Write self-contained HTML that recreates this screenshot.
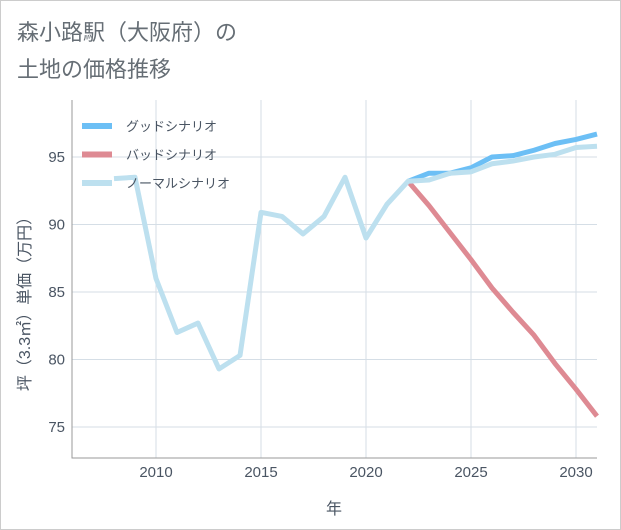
<!DOCTYPE html>
<html><head><meta charset="utf-8"><style>
body{margin:0;background:#fff;}
svg{display:block;font-family:"Liberation Sans","Noto Sans CJK JP",sans-serif;}
</style></head><body>
<svg width="621" height="530">
<rect x="0.5" y="0.5" width="620" height="529" fill="#fff" stroke="#ccc"/>
<text x="17" y="40" font-size="22" fill="#666e75">森小路駅（大阪府）の</text>
<text x="17" y="77" font-size="22" fill="#666e75">土地の価格推移</text>
<g id="grid"></g>
<path d="M72 100 V458 H597" fill="none" stroke="#999" stroke-width="1"/>
<g id="series"></g>
<g id="legend"></g>
<text x="334" y="514" font-size="16" fill="#4a5563" text-anchor="middle">年</text>
<text transform="translate(30,300) rotate(-90)" font-size="16" fill="#4a5563" text-anchor="middle">坪（3.3㎡）単価（万円）</text>
</svg>
<script>
const xTicks=[2010,2015,2020,2025,2030];
const yTicks=[75,80,85,90,95];
const normalYears=[2008,2009,2010,2011,2012,2013,2014,2015,2016,2017,2018,2019,2020,2021,2022,2023,2024,2025,2026,2027,2028,2029,2030,2031];
const normalVals=[93.4,93.5,86,82,82.7,79.3,80.3,90.9,90.6,89.3,90.6,93.5,89,91.5,93.2,93.3,93.8,93.9,94.5,94.7,95.0,95.2,95.7,95.8];
const futureYears=[2022,2023,2024,2025,2026,2027,2028,2029,2030,2031];
const goodVals=[93.2,93.8,93.8,94.2,95.0,95.1,95.5,96.0,96.3,96.7];
const badVals=[93.2,91.4,89.4,87.4,85.3,83.5,81.8,79.7,77.8,75.8];
const NS="http://www.w3.org/2000/svg";
const L=72,R=597,T=100,B=458;
const x=y=>L+(y-2006)*(R-L)/25;
const yv=v=>157+(95-v)*13.5;
function mk(t,a,p){const e=document.createElementNS(NS,t);for(const k in a)e.setAttribute(k,a[k]);p.appendChild(e);return e;}
const g=document.getElementById('grid');
xTicks.forEach(t=>{const l=mk('line',{x1:x(t),x2:x(t),y1:T,y2:B,stroke:'#d5dee6'},g);


const s=mk('text',{x:x(t),y:477,'font-size':15,fill:'#4a5563','text-anchor':'middle'},g);s.textContent=t;

});
yTicks.forEach(t=>{const l=mk('line',{x1:L,x2:R,y1:yv(t),y2:yv(t),stroke:'#d5dee6'},g);


const s=mk('text',{x:65,y:yv(t)+5,'font-size':15,fill:'#4a5563','text-anchor':'end'},g);s.textContent=t;

});
const sg=document.getElementById('series');
function line(ys,vs,c,n){const p=mk('polyline',{points:ys.map((yr,i)=>x(yr)+','+yv(vs[i])).join(' '),fill:'none',stroke:c,'stroke-width':5,'stroke-linejoin':'round'},sg);

}
line(futureYears,badVals,'#de8a93','bad-scenario-line');
line(futureYears,goodVals,'#6cbff5','good-scenario-line');
line(normalYears,normalVals,'#bde0ef','normal-scenario-line');
const lg=document.getElementById('legend');
[['グッドシナリオ','#6cbff5'],['バッドシナリオ','#de8a93'],['ノーマルシナリオ','#bde0ef']].forEach((d,i)=>{
const yy=126+i*28.5;
const l=mk('line',{x1:82,x2:112,y1:yy,y2:yy,stroke:d[1],'stroke-width':6},lg);


const s=mk('text',{x:126,y:yy+5,'font-size':13,fill:'#4a5563'},lg);s.textContent=d[0];

});
</script>
</body></html>
